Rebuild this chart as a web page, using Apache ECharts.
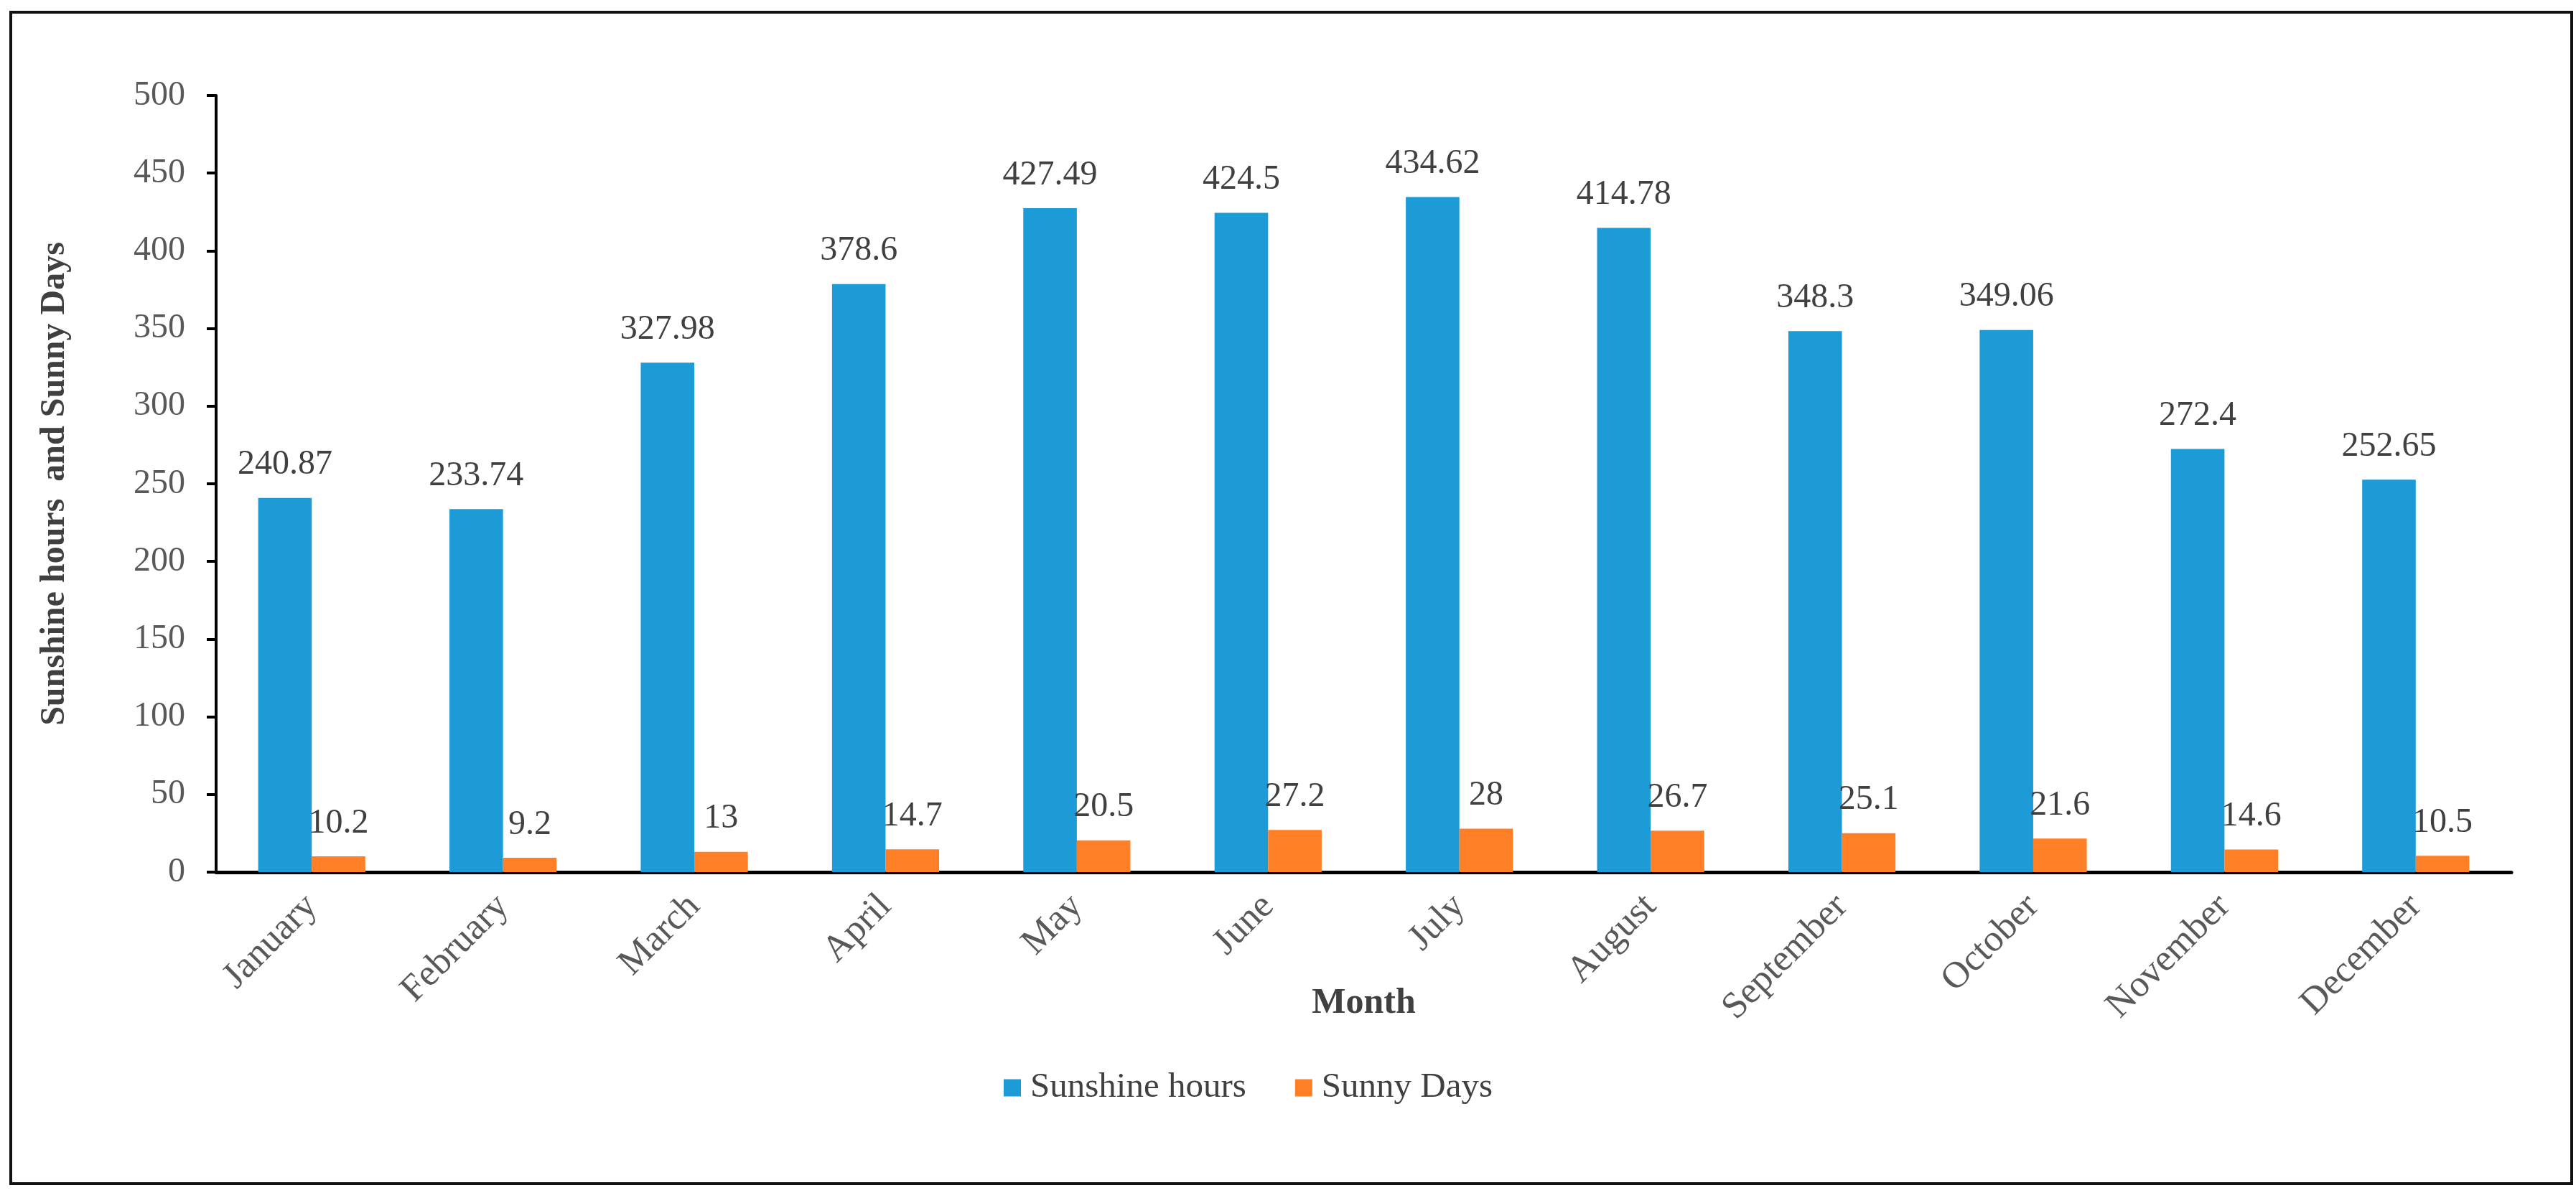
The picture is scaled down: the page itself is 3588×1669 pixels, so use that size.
<!DOCTYPE html>
<html>
<head>
<meta charset="utf-8">
<script src="https://cdn.jsdelivr.net/npm/echarts@6/dist/echarts.min.js"></script>
<style>
html,body{margin:0;padding:0;background:#fff;}
#chart{width:3588px;height:1669px;}
</style>
</head>
<body>
<div id="chart"></div>
<script>
const months = ["January","February","March","April","May","June","July","August","September","October","November","December"];
const sunshineHours = [240.87,233.74,327.98,378.6,427.49,424.5,434.62,414.78,348.3,349.06,272.4,252.65];
const sunnyDays = [10.2,9.2,13,14.7,20.5,27.2,28,26.7,25.1,21.6,14.6,10.5];
const yTicks = {min:0,max:500,interval:50};

const FONT = '"Liberation Serif","Times New Roman",serif';
const chart = echarts.init(document.getElementById('chart'));
chart.setOption({
  animation:false,
  backgroundColor:'#fff',
  graphic:[{
    type:'rect', silent:true, z:-1,
    shape:{x:15,y:17,width:3567,height:1632},
    style:{fill:'none',stroke:'#111',lineWidth:4}
  }],
  grid:{left:301,right:90,top:133,bottom:454,containLabel:false},
  legend:{
    left:1393, top:1486,
    itemWidth:24,itemHeight:24,itemGap:68,
    icon:'rect',
    textStyle:{fontFamily:FONT,fontSize:49,color:'#404040',padding:[0,0,0,8]},
    data:['Sunshine hours','Sunny Days']
  },
  xAxis:{
    type:'category',
    data:months,
    name:'Month',
    nameLocation:'middle',
    nameGap:158,
    nameMoveOverlap:false,
    nameTextStyle:{fontFamily:FONT,fontSize:50,fontWeight:'bold',color:'#404040'},
    axisLine:{lineStyle:{color:'#000',width:5}},
    axisTick:{alignWithLabel:true,length:10,lineStyle:{color:'#000',width:3}},
    axisLabel:{rotate:45,margin:40,fontFamily:FONT,fontSize:52,color:'#595959'},
    splitLine:{show:false}
  },
  yAxis:{
    type:'value',
    min:yTicks.min,max:yTicks.max,interval:yTicks.interval,
    name:'Sunshine hours  and Sunny Days',
    nameLocation:'middle',
    nameGap:200,
    nameMoveOverlap:false,
    nameTextStyle:{fontFamily:FONT,fontSize:48,fontWeight:'bold',color:'#404040'},
    axisLine:{show:true,lineStyle:{color:'#000',width:4}},
    axisTick:{show:true,length:13,lineStyle:{color:'#000',width:4}},
    axisLabel:{margin:43,fontFamily:FONT,fontSize:48,color:'#595959'},
    splitLine:{show:false}
  },
  series:[
    {
      name:'Sunshine hours',type:'bar',data:sunshineHours,
      barGap:'0%',barCategoryGap:'44%',
      itemStyle:{color:'#1C9BD7'},
      label:{show:true,position:'top',distance:22,fontFamily:FONT,fontSize:48,color:'#404040'}
    },
    {
      name:'Sunny Days',type:'bar',data:sunnyDays,
      barGap:'0%',barCategoryGap:'44%',
      itemStyle:{color:'#FF7F27'},
      label:{show:true,position:'top',distance:22,fontFamily:FONT,fontSize:48,color:'#404040'}
    }
  ]
});
</script>
</body>
</html>
